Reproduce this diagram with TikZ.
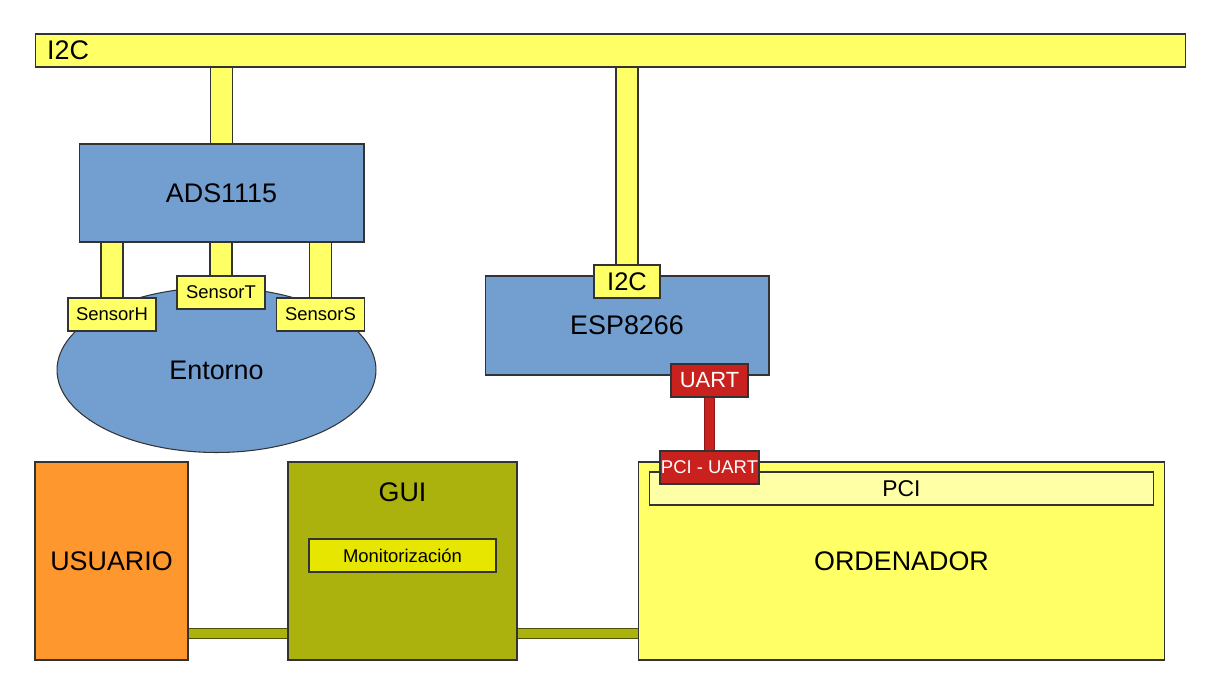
\documentclass[tikz,border=0pt]{standalone}
\usepackage{fontspec}
\setmainfont{Liberation Sans}
\usetikzlibrary{shapes.geometric,backgrounds}
\definecolor{busYellow}{HTML}{FFFF66}
\definecolor{chipBlue}{HTML}{729FCF}
\definecolor{uartRed}{HTML}{C9211E}
\definecolor{guiOlive}{HTML}{ABB20D}
\definecolor{userOrange}{HTML}{FF972F}
\definecolor{pciYellow}{HTML}{FFFFA6}
\definecolor{monYellow}{HTML}{E6E600}
\definecolor{edgeGray}{HTML}{333333}
\begin{document}
\begin{tikzpicture}
[x=0.02cm, y=-0.02cm,
  box/.style={shape=rectangle, draw=edgeGray, line width=0.6pt, inner sep=0pt},%
  bigText/.style={font=\fontsize{15.3}{18}\selectfont},%
  midText/.style={font=\fontsize{13}{15}\selectfont},%
  smallText/.style={font=\fontsize{10.5}{12}\selectfont},%
  busLine/.style={draw=edgeGray, line width=0.6pt, double=busYellow, double distance=11.9pt},%
  uartLine/.style={draw=uartRed!70!black, line width=0.6pt, double=uartRed, double distance=5.2pt},%
  guiLine/.style={draw=guiOlive!45!black, line width=0.6pt, double=guiOlive, double distance=5.6pt}]
\useasboundingbox (0,0) rectangle (1224,693);
%% bus and sensor side
\node (i2cBus) at (610.5,50.5) [box, fill=busYellow, minimum width=23.02cm, minimum height=0.66cm,
  text width=22.54cm, inner xsep=0.24cm, align=left, bigText] {I2C};
\node (ads) at (221.5,193) [box, fill=chipBlue, minimum width=5.7cm, minimum height=1.96cm, bigText] {ADS1115};
\node (entorno) at (216.5,370) [shape=ellipse, draw=edgeGray, line width=0.6pt, fill=chipBlue, inner sep=0pt,
  minimum width=6.38cm, minimum height=3.3cm, bigText] {Entorno};
\foreach \name/\txt/\x/\y in {sensH/SensorH/112/314.5, sensT/SensorT/221/292.5, sensS/SensorS/320.5/314.5}
{
  \node (\name) at (\x,\y) [box, fill=busYellow, minimum width=1.76cm, minimum height=0.66cm, smallText] {\txt};
}
%% ESP8266
\node (esp) at (627,325.5) [box, fill=chipBlue, minimum width=5.68cm, minimum height=1.98cm, bigText] {ESP8266};
\node (espI2c) at (627,281.5) [box, fill=busYellow, minimum width=1.32cm, minimum height=0.66cm,
  font=\fontsize{14.5}{17}\selectfont] {I2C};
\node (uart) at (709.5,380.5) [box, fill=uartRed, text=white, minimum width=1.54cm, minimum height=0.66cm,
  font=\fontsize{12.5}{15}\selectfont] {UART};
%% bottom row
\node (usuario) at (111.5,561) [box, fill=userOrange, minimum width=3.06cm, minimum height=3.96cm, bigText] {USUARIO};
\node (gui) at (402.5,561) [box, fill=guiOlive, minimum width=4.58cm, minimum height=3.96cm] {};
\node (guiTitle) at (402.5,492) [bigText] {GUI};
\node (monitor) at (402.5,555.5) [box, fill=monYellow, minimum width=3.74cm, minimum height=0.66cm, smallText] {Monitorización};
\node (ordenador) at (901.5,561) [box, fill=busYellow, minimum width=10.54cm, minimum height=3.96cm, bigText] {ORDENADOR};
\node (pci) at (901.5,488.5) [box, fill=pciYellow, minimum width=10.1cm, minimum height=0.66cm, midText] {PCI};
\node (pciUart) at (709.5,467.5) [box, fill=uartRed, text=white, minimum width=1.98cm, minimum height=0.66cm,
  smallText] {PCI - UART};
%% connectors
\begin{scope}[on background layer]
\draw[busLine] (ads.north) -- (ads.north |- i2cBus.south);
\draw[busLine] (espI2c.north) -- (espI2c.north |- i2cBus.south);
\foreach \name in {sensH, sensT, sensS}
{
  \draw[busLine] (\name.north) -- (\name.north |- ads.south);
}
\draw[uartLine] (uart.south) -- (pciUart.north);
\draw[guiLine] ([yshift=0.54cm]usuario.south east) -- ([yshift=0.54cm]gui.south west);
\draw[guiLine] ([yshift=0.54cm]gui.south east) -- ([yshift=0.54cm]ordenador.south west);
\end{scope}
\end{tikzpicture}
\end{document}
